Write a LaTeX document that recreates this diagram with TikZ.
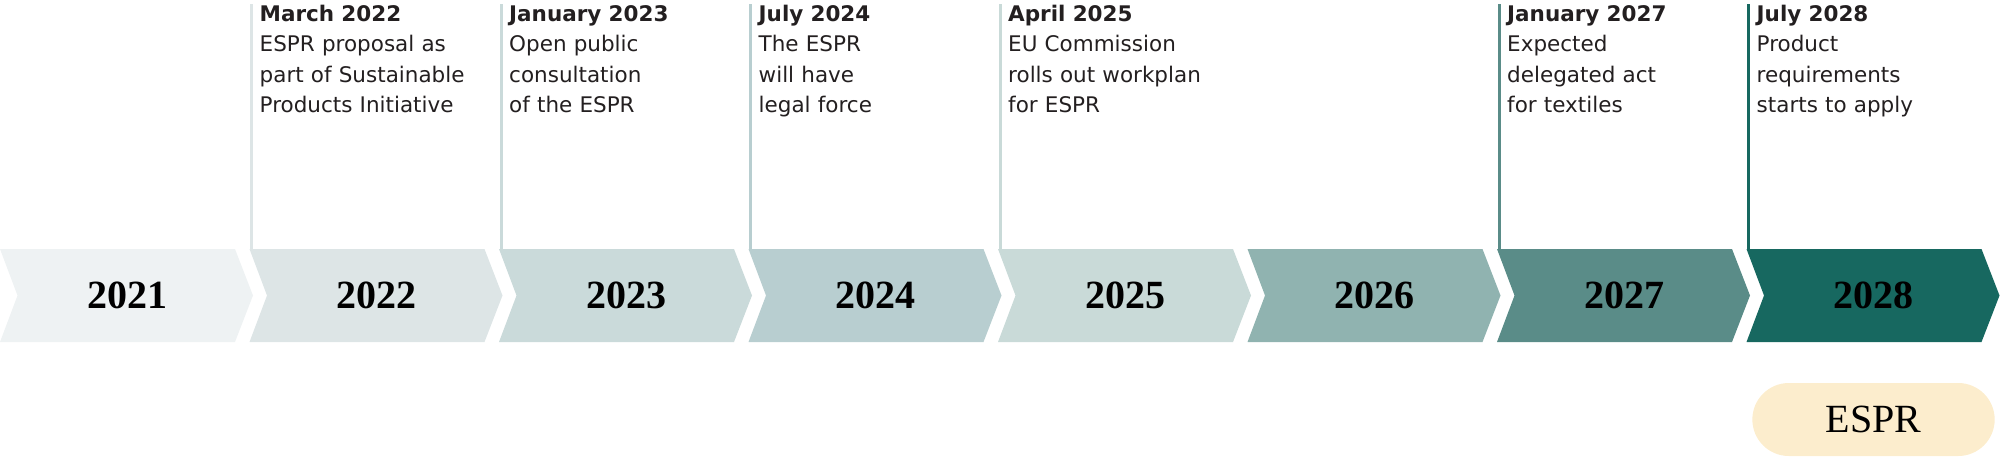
\documentclass[tikz,border=0pt]{standalone}
\usepackage{fontspec}
\setmainfont{DejaVu Sans}
\newfontfamily\yearfont{Liberation Serif}
\usetikzlibrary{positioning,shapes.misc}
\definecolor{ink}{HTML}{231F20}
\definecolor{yrA}{HTML}{EEF2F3}
\definecolor{yrB}{HTML}{DDE5E6}
\definecolor{yrC}{HTML}{CADADA}
\definecolor{yrD}{HTML}{B8CED0}
\definecolor{yrE}{HTML}{C9DAD8}
\definecolor{yrF}{HTML}{90B3B0}
\definecolor{yrG}{HTML}{5A8C88}
\definecolor{yrH}{HTML}{176860}
\definecolor{cream}{HTML}{FCEDCD}

\begin{document}
\begin{tikzpicture}[x=1pt,y=-1pt,
year/.style={font=\yearfont\bfseries\fontsize{40}{40}\selectfont,text=black,inner sep=0pt},
event/.style={anchor=base west,align=left,text width=245pt,inner sep=0pt,text=ink,
font=\fontsize{21.5}{30.5}\selectfont},
tick/.style={line width=3pt},
pill/.style={rounded rectangle,fill=cream,minimum width=249pt,minimum height=73pt,
font=\yearfont\fontsize{40}{40}\selectfont,text=black}]
\useasboundingbox (0,0) rectangle (2000,456);

\foreach \i/\yr/\col in {0/2021/yrA,1/2022/yrB,2/2023/yrC,3/2024/yrD,
4/2025/yrE,5/2026/yrF,6/2027/yrG,7/2028/yrH}{
\fill[\col] ({249.5*\i},249) -- ++(235,0) -- ++(18,46.5) -- ++(-18,46.5)
-- ++(-235,0) -- ++(17.5,-46.5) -- cycle;
\coordinate (c\yr) at ({249.5*\i+2},249);
\node[year] (y\yr) at ({249.5*\i+127},295.5) {\yr};
}

\foreach \i/\yr/\col/\txt in {
1/2022/yrB/{\textbf{March 2022}\\ESPR proposal as\\part of Sustainable\\Products Initiative},
2/2023/yrC/{\textbf{January 2023}\\Open public\\consultation\\of the ESPR},
3/2024/yrD/{\textbf{July 2024}\\The ESPR\\will have\\legal force},
4/2025/yrE/{\textbf{April 2025}\\EU Commission\\rolls out workplan\\for ESPR},
6/2027/yrG/{\textbf{January 2027}\\Expected\\delegated act\\for textiles},
7/2028/yrH/{\textbf{July 2028}\\Product\\requirements\\starts to apply}}{
\coordinate (t\yr) at ({249.5*\i+2},4);
\draw[tick,\col] (c\yr) -- (t\yr);
\node[event] (e\yr) at ({249.5*\i+10},21) {\txt};
}

\node[pill] (espr) at (1873.5,419.5) {ESPR};
\end{tikzpicture}
\end{document}
